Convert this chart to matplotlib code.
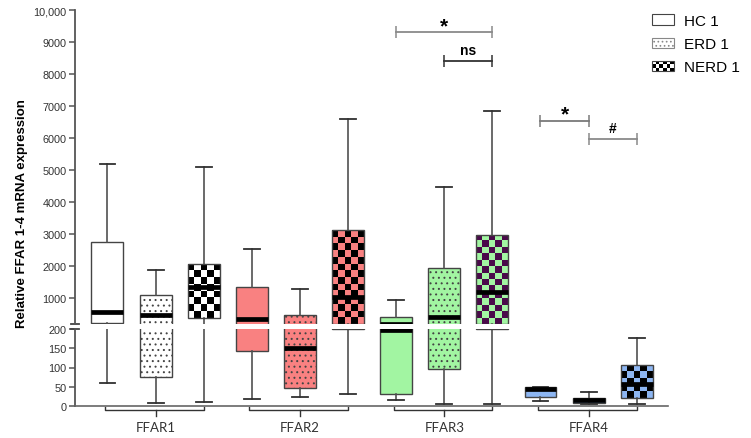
import numpy as np
import matplotlib
matplotlib.use('Agg')
import matplotlib.pyplot as plt
from matplotlib.colors import ListedColormap
from matplotlib.patches import Patch, Rectangle
from matplotlib.legend_handler import HandlerBase
from matplotlib.transforms import blended_transform_factory

plt.rcParams['font.family'] = ['Liberation Sans', 'DejaVu Sans']
plt.rcParams['hatch.linewidth'] = 0.7

# ---- data ----
groups = ['FFAR1', 'FFAR2', 'FFAR3', 'FFAR4']
series = ['HC 1', 'ERD 1', 'NERD 1']

hc_min = [60, 18, 16, 12]
hc_q1 = [220, 142, 31, 24]
hc_med = [570, 356, 198, 45]
hc_q3 = [2770, 1345, 410, 50]
hc_max = [5200, 2550, 950, 50]

erd_min = [8, 23, 5, 5]
erd_q1 = [75, 46, 96, 7]
erd_med = [480, 150, 410, 15]
erd_q3 = [1090, 490, 1950, 22]
erd_max = [1900, 1300, 4480, 36]

nerd_min = [10, 31, 5, 5]
nerd_q1 = [380, 200, 200, 20]
nerd_med = [1370, 1050, 1190, 57]
nerd_q3 = [2080, 3130, 2980, 107]
nerd_max = [5100, 6600, 6850, 177]

# significance brackets (box index 1..12)
sig_start = [7, 8, 10, 11]
sig_end = [9, 9, 11, 12]
sig_y = [9300, 8400, 6540, 5975]
sig_text = ['*', 'ns', '*', '#']
sig_color = ['#8a8a8a', '#333333', '#7a7a7a', '#8a8a8a']

upper_ticks = [1000, 2000, 3000, 4000, 5000, 6000, 7000, 8000, 9000, 10000]
upper_labels = ['1000', '2000', '3000', '4000', '5000', '6000', '7000', '8000', '9000', '10,000']
lower_ticks = [0, 50, 100, 150, 200]

# colours per group
face_colors = ['#ffffff', '#f98181', '#a2f5a2', '#8db6f2']
checker_dark = ['#000000', '#000000', '#4a0a4a', '#000000']

stats_cols = [
    (hc_min, hc_q1, hc_med, hc_q3, hc_max),
    (erd_min, erd_q1, erd_med, erd_q3, erd_max),
    (nerd_min, nerd_q1, nerd_med, nerd_q3, nerd_max),
]

stats = []
positions = []
for g in range(len(groups)):
    for s in range(len(series)):
        mn, q1, md, q3, mx = [col[g] for col in stats_cols[s]]
        stats.append(dict(whislo=mn, q1=q1, med=md, q3=q3, whishi=mx, fliers=[]))
        positions.append(g * 3 + s + 1)

# ---- figure / broken axis ----
W, H = 751, 439
fig = plt.figure(figsize=(W / 100, H / 100), dpi=100)
x_left, x_right = 75, 668
ax_up = fig.add_axes([x_left / W, 1 - 325 / H, (x_right - x_left) / W, (325 - 11) / H])
ax_lo = fig.add_axes([x_left / W, 1 - 407 / H, (x_right - x_left) / W, (407 - 330) / H])

xlim = (0.325, 12.65)
box_w = 0.665
cell_px = 6.5


def add_checker(ax, patch, x0, x1, lo, hi, c_light, c_dark):
    ylo, yhi = ax.get_ylim()
    lo, hi = max(lo, ylo), min(hi, yhi)
    if hi <= lo:
        return
    p0 = ax.transData.transform((x0, lo))
    p1 = ax.transData.transform((x1, hi))
    ncol = max(1, int(round((p1[0] - p0[0]) / cell_px)))
    nrow = max(1, int(round((p1[1] - p0[1]) / cell_px)))
    grid = np.add.outer(np.arange(nrow), np.arange(ncol)) % 2
    im = ax.imshow(grid, cmap=ListedColormap([c_light, c_dark]), extent=(x0, x1, lo, hi),
                   aspect='auto', interpolation='nearest', origin='lower', zorder=1.5)
    im.set_clip_path(patch)


for ax, ylim in ((ax_up, (200, 10000)), (ax_lo, (0, 200))):
    ax.set_autoscale_on(False)
    ax.set_xlim(*xlim)
    ax.set_ylim(*ylim)
    res = ax.bxp(stats, positions=positions, widths=box_w, capwidths=0.33,
                 patch_artist=True, showfliers=False,
                 boxprops=dict(edgecolor='#444444', linewidth=1.0),
                 medianprops=dict(color='black', linewidth=3.4, solid_capstyle='butt'),
                 whiskerprops=dict(color='#505050', linewidth=1.2),
                 capprops=dict(color='#303030', linewidth=1.3))
    for i, box in enumerate(res['boxes']):
        g, s = divmod(i, 3)
        if s == 0:
            box.set_facecolor(face_colors[g])
        elif s == 1:
            box.set_facecolor(face_colors[g])
            box.set_hatch('...')
        else:
            box.set_facecolor('none')
            box.set_zorder(2.1)
            st = stats[i]
            add_checker(ax, box, positions[i] - box_w / 2, positions[i] + box_w / 2,
                        st['q1'], st['q3'], face_colors[g], checker_dark[g])
    ax.set_xlim(*xlim)
    ax.set_ylim(*ylim)
    ax.set_xticks([])
    for side in ('top', 'right'):
        ax.spines[side].set_visible(False)
    ax.spines['left'].set_color('#555555')
    ax.spines['left'].set_linewidth(1.3)
    ax.tick_params(axis='y', direction='out', length=4, width=1.1, color='#555555',
                   labelsize=7.8, labelcolor='#333333', pad=2)

ax_up.spines['bottom'].set_visible(False)
ax_up.set_yticks(upper_ticks)
ax_up.set_yticklabels(upper_labels)
ax_lo.spines['bottom'].set_color('#666666')
ax_lo.spines['bottom'].set_linewidth(1.2)
ax_lo.set_yticks(lower_ticks)

# break marks on the y axis
for ax, yy in ((ax_up, 0.0), (ax_lo, 1.0)):
    ax.plot([-0.006, 0.007], [yy, yy], transform=ax.transAxes, color='#444444',
            linewidth=1.3, clip_on=False)

# group brackets below the x axis
tr = blended_transform_factory(ax_lo.transData, ax_lo.transAxes)
for g, name in enumerate(groups):
    a, b = g * 3 + 1, g * 3 + 3
    mid = (a + b) / 2
    ax_lo.plot([a - 0.05, a - 0.05, b, b], [-0.01, -0.055, -0.055, -0.01], transform=tr,
               color='#333333', linewidth=1.0, clip_on=False)
    ax_lo.plot([mid, mid], [-0.055, -0.13], transform=tr, color='#333333',
               linewidth=1.0, clip_on=False)
    ax_lo.text(mid, -0.27, name, transform=tr, ha='center', va='center',
               fontsize=9.5, color='#333333', family=['Lato', 'DejaVu Sans'])

# significance brackets
for a, b, y, t, c in zip(sig_start, sig_end, sig_y, sig_text, sig_color):
    ax_up.plot([a, b], [y, y], color=c, linewidth=1.3, marker='|', markersize=8,
               markeredgewidth=1.1, clip_on=False)
    size = 15 if t == '*' else 10
    off = -2 if t == '*' else 3
    ax_up.annotate(t, xy=((a + b) / 2, y), xytext=(0, off), textcoords='offset points',
                   ha='center', va='bottom', fontsize=size, fontweight='bold', color='black')

# y label
fig.text(22 / W, 1 - 214 / H, 'Relative FFAR 1-4 mRNA expression', rotation=90,
         ha='center', va='center', fontsize=9.5, fontweight='bold', color='black')


# legend with a checker swatch
class CheckerHandler(HandlerBase):
    def create_artists(self, legend, orig_handle, xdescent, ydescent, width, height,
                       fontsize, trans):
        arts = []
        nx, ny = 6, 3
        for i in range(nx):
            for j in range(ny):
                col = 'black' if (i + j) % 2 else 'white'
                arts.append(Rectangle((-xdescent + i * width / nx, -ydescent + j * height / ny),
                                      width / nx, height / ny, facecolor=col,
                                      edgecolor='none', transform=trans))
        arts.append(Rectangle((-xdescent, -ydescent), width, height, facecolor='none',
                              edgecolor='#444444', linewidth=0.8, transform=trans))
        return arts


h_hc = Patch(facecolor='white', edgecolor='#444444', linewidth=0.8)
h_erd = Patch(facecolor='white', edgecolor='#888888', linewidth=0.8, hatch='....')
h_nerd = Patch(facecolor='white', edgecolor='#444444')
fig.legend([h_hc, h_erd, h_nerd], series, loc='upper left', bbox_to_anchor=(0.868, 0.966),
           frameon=False, fontsize=11, handlelength=1.45, handleheight=0.65,
           handletextpad=0.65, labelspacing=0.6, borderpad=0, borderaxespad=0,
           handler_map={h_nerd: CheckerHandler()})

fig.savefig('out.png', dpi=100)
